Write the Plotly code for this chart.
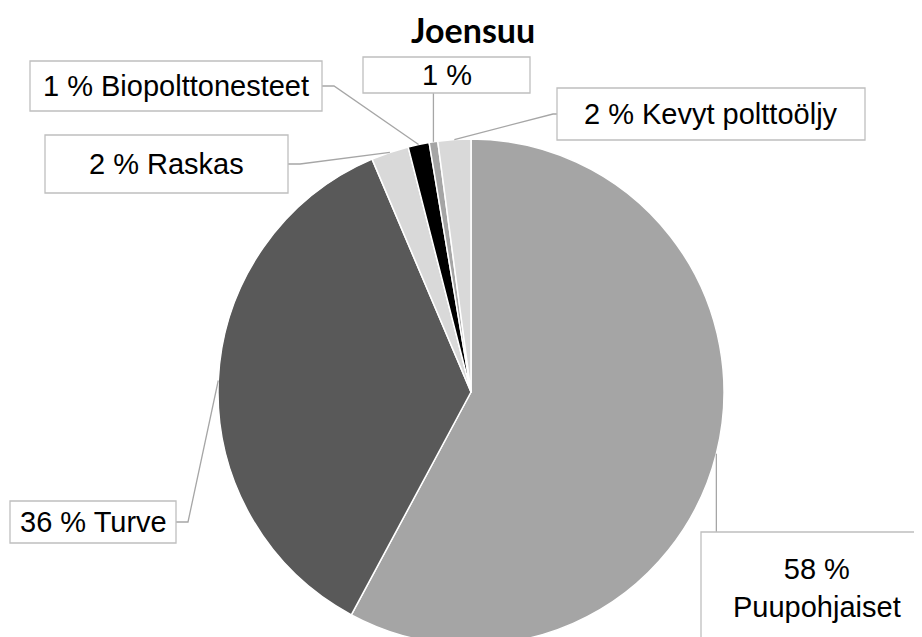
import math
import plotly.graph_objects as go

# Osuudet (%), myötäpäivään klo 12:sta alkaen
labels = ['Puupohjaiset', 'Turve', 'Raskas', 'Biopolttonesteet', '', 'Kevyt polttoöljy']
values = [57.9, 35.8, 2.4, 1.35, 0.55, 2.1]
shown_pct = [58, 36, 2, 1, 1, 2]
slice_colors = ['#A5A5A5', '#595959', '#D9D9D9', '#000000', '#A5A5A5', '#D9D9D9']

W, H = 922, 637
OFF = 8  # sivun body-marginaali
# Piirakan paikka ikkunan pikseleinä
CX, CY, R = 471, 392, 253


def px(x):
    return (x - OFF) / W


def py(y):
    return 1 - (y - OFF) / H


def slice_point(i):
    """Siivun keskikohta kehällä (pikseleinä)."""
    total = sum(values)
    start = sum(values[:i]) / total * 360
    mid = math.radians(start + values[i] / total * 180)
    return CX + R * math.sin(mid), CY - R * math.cos(mid)


def label_text(i):
    if labels[i] == 'Puupohjaiset':
        return f'{shown_pct[i]} %<br>{labels[i]}'
    return f'{shown_pct[i]} % {labels[i]}'.strip()


# Selitelaatikot: (x0, y0, x1, y1)
boxes = {
    0: (701, 532, 945, 665),
    1: (10, 501, 176, 543),
    2: (45, 135, 288, 193),
    3: (30, 61, 322, 111),
    4: (363, 57, 530, 93),
    5: (557, 88, 865, 140),
}
text_centers = {0: (817, 588)}

fig = go.Figure(go.Pie(
    labels=[l if l else ' ' for l in labels],
    values=values,
    sort=False,
    direction='clockwise',
    rotation=0,
    marker=dict(colors=slice_colors, line=dict(color='white', width=1.5)),
    textinfo='none',
    hoverinfo='label+percent',
    showlegend=False,
    domain=dict(x=[px(CX - R), px(CX + R)], y=[0, py(CY - R)]),
))

shapes = []
annotations = []
line_style = dict(color='#A6A6A6', width=1.3)

for i in range(len(values)):
    x0, y0, x1, y1 = boxes[i]
    sx, sy = slice_point(i)
    # Johtoviivat
    if i in (0, 4):
        ey = y0 if i == 0 else y1
        path = f'M {px(sx)},{py(ey)} L {px(sx)},{py(sy)}'
    elif i == 5:
        my = (y0 + y1) / 2
        path = f'M {px(x0)},{py(my)} L {px(x0 - 4)},{py(my)} L {px(sx)},{py(sy)}'
    else:
        my = (y0 + y1) / 2
        path = f'M {px(x1)},{py(my)} L {px(x1 + 12)},{py(my)} L {px(sx)},{py(sy)}'
    shapes.append(dict(type='path', xref='paper', yref='paper', path=path, line=line_style))
    shapes.append(dict(type='rect', xref='paper', yref='paper',
                       x0=px(x0), x1=px(x1), y0=py(y0), y1=py(y1),
                       line=dict(color='#BFBFBF', width=1.3), fillcolor='white'))
    tx, ty = text_centers.get(i, ((x0 + x1) / 2, (y0 + y1) / 2))
    annotations.append(dict(
        x=px(tx), y=py(ty), xref='paper', yref='paper',
        text=label_text(i), showarrow=False,
        xanchor='center', yanchor='middle', align='center',
        font=dict(family='Liberation Sans, Arial', size=29, color='black'),
    ))

annotations.append(dict(
    x=px(473), y=1, xref='paper', yref='paper',
    text='<b>Joensuu</b>', showarrow=False,
    xanchor='center', yanchor='top', borderpad=0,
    font=dict(family='Lato, Carlito, Calibri', size=34, color='black'),
))

fig.update_layout(
    width=W,
    height=H,
    margin=dict(l=0, r=0, t=0, b=0),
    paper_bgcolor='white',
    plot_bgcolor='white',
    shapes=shapes,
    annotations=annotations,
)

fig.write_html('out.html')
